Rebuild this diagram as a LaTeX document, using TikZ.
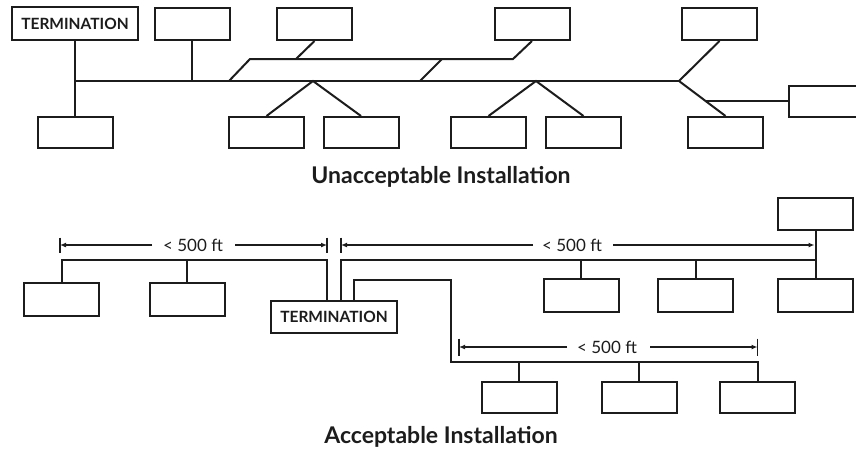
\documentclass[tikz,border=0pt]{standalone}
\usepackage{fontspec}
\setmainfont{Lato}
\usetikzlibrary{arrows.meta,calc}
\definecolor{ink}{HTML}{1C1C1C}
\begin{document}
\begin{tikzpicture}[x=1pt,y=-1pt,
  line width=2pt, draw=ink, color=ink,
  box/.style={draw=ink, line width=2pt, minimum width=75pt, minimum height=32pt, inner sep=0pt, fill=white},
  termbox/.style={box, minimum width=126pt, font=\bfseries\fontsize{15.5}{18}\selectfont},
  wire/.style={draw=ink, line width=2pt},
  dim/.style={draw=ink, line width=1.6pt, -{Latex[length=6pt,width=5pt]}},
  tick/.style={draw=ink, line width=1.6pt},
  dimlabel/.style={font=\fontsize{17}{20}\selectfont, inner sep=0pt, text=ink},
  caption/.style={font=\bfseries\fontsize{23}{27}\selectfont, inner sep=0pt, text=ink, anchor=base}]
\useasboundingbox (0,0) rectangle (856,448);

% ================= Unacceptable installation =================
\node[termbox, minimum height=33pt] (t0) at (75,23.5) {TERMINATION};
\node[box] (u2) at (192,23.5) {};
\node[box] (u3) at (314.5,24) {};
\node[box] (u4) at (532,24) {};
\node[box] (u5) at (719.5,24) {};
\node[box, minimum height=31pt] (l1) at (75,132.5) {};
\node[box, minimum height=31pt] (l2) at (266.5,132.5) {};
\node[box, minimum height=31pt] (l3) at (361,132.5) {};
\node[box, minimum height=31pt] (l4) at (488.5,132.5) {};
\node[box, minimum height=31pt] (l5) at (583.5,132.5) {};
\node[box, minimum height=31pt] (l6) at (725.5,132.5) {};
\node[box, minimum width=90pt, minimum height=31pt, anchor=west] (r1) at (788,101.5) {};

\coordinate (busA) at (75,81);
\coordinate (busE) at (679,81);
\coordinate (p1) at (229,81);
\coordinate (p1u) at (250,59);
\coordinate (p2) at (420,81);
\coordinate (p2u) at (442,59);
\coordinate (p3u) at (296,59);
\coordinate (p4u) at (513,59);
\coordinate (b1) at (313,81);
\coordinate (b2) at (536,81);

\draw[wire] (t0.south) -- (l1.north);
\draw[wire] (busA) -- (busE);
\draw[wire] (u2.south) -- (u2.south |- busA);
\draw[wire] (p1) -- (p1u) -- (p4u) -- (u4.south);
\draw[wire] (p2) -- (p2u);
\draw[wire] (u3.south) -- (p3u);
\draw[wire] (l2.north) -- (b1) -- (l3.north);
\draw[wire] (l4.north) -- (b2) -- (l5.north);
\draw[wire] (u5.south) -- (busE) -- (l6.north);
\coordinate (jr) at ($(busE)!0.57!(l6.north)$);
\draw[wire] (jr) -- (jr -| r1.west);

\node[caption] (cap1) at (441,183) {Unacceptable Installation};

% ================= Acceptable installation =================
\node[termbox] (t1) at (334,317) {TERMINATION};
\node[box, minimum height=33pt] (a1) at (61.5,299.5) {};
\node[box, minimum height=33pt] (a2) at (187,299.5) {};
\node[box, minimum height=33pt] (c1) at (581,295.5) {};
\node[box, minimum height=33pt] (c2) at (695.5,295.5) {};
\node[box, minimum height=33pt] (c3) at (815.5,295.5) {};
\node[box] (c0) at (815.5,214) {};
\node[box, minimum height=31pt] (f1) at (519,397.5) {};
\node[box, minimum height=31pt] (f2) at (639,397.5) {};
\node[box, minimum height=31pt] (f3) at (757.5,397.5) {};

% left segment
\coordinate (s1a) at (61.5,260);
\coordinate (s1b) at (327,260);
\draw[wire] (a1.north) -- (s1a) -- (s1b) -- (s1b |- t1.north);
\draw[wire] (a2.north) -- (a2.north |- s1a);

% right upper segment
\coordinate (s2a) at (341,260);
\coordinate (s2b) at (815.5,260);
\draw[wire] (s2a |- t1.north) -- (s2a) -- (s2b);
\draw[wire] (c0.south) -- (c3.north);
\draw[wire] (c1.north) -- (c1.north |- s2a);
\draw[wire] (c2.north) -- (c2.north |- s2a);

% lower segment
\coordinate (s3a) at (354,280);
\coordinate (s3b) at (451,280);
\coordinate (s3c) at (451,362);
\coordinate (s3d) at (757.5,362);
\draw[wire] (s3a |- t1.north) -- (s3a) -- (s3b) -- (s3c) -- (s3d) -- (f3.north);
\draw[wire] (f1.north) -- (f1.north |- s3c);
\draw[wire] (f2.north) -- (f2.north |- s3c);

% dimension 1
\coordinate (d1l) at (60,245);
\coordinate (d1r) at (327,245);
\draw[tick] ($(d1l)+(0,-7.5)$) -- ($(d1l)+(0,7.5)$);
\draw[tick] ($(d1r)+(0,-7.5)$) -- ($(d1r)+(0,7.5)$);
\node[dimlabel] (lab1) at (193,245) {< 500 ft};
\draw[dim] (152,245) -- (d1l);
\draw[dim] (235,245) -- (d1r);

% dimension 2
\coordinate (d2l) at (341,245);
\coordinate (d2r) at (814.5,245);
\draw[tick] ($(d2l)+(0,-7.5)$) -- ($(d2l)+(0,7.5)$);
\node[dimlabel] (lab2) at (572,245) {< 500 ft};
\draw[dim] (533,245) -- (d2l);
\draw[dim] (613,245) -- (d2r);

% dimension 3
\coordinate (d3l) at (459,347);
\coordinate (d3r) at (757.5,347);
\draw[tick] ($(d3l)+(0,-8.5)$) -- ($(d3l)+(0,8.5)$);
\draw[tick] ($(d3r)+(0,-8.5)$) -- ($(d3r)+(0,8.5)$);
\node[dimlabel] (lab3) at (607,347) {< 500 ft};
\draw[dim] (567,347) -- (d3l);
\draw[dim] (650,347) -- (d3r);

\node[caption] (cap2) at (441,443) {Acceptable Installation};
\end{tikzpicture}
\end{document}
